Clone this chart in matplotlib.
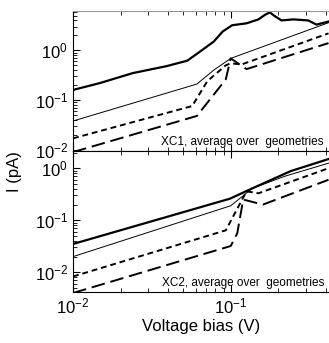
import numpy as np
from matplotlib import pyplot as plt
from matplotlib.ticker import LogLocator, NullFormatter

plt.rcParams['font.family'] = ['Liberation Sans', 'DejaVu Sans']

# XC1 (top panel)
v1_thick = [0.01, 0.0148, 0.024, 0.039, 0.053, 0.064, 0.078, 0.089, 0.102, 0.126,
            0.15, 0.165, 0.177, 0.19, 0.21, 0.25, 0.31, 0.35, 0.417]
i1_thick = [0.16, 0.22, 0.35, 0.48, 0.62, 0.95, 1.5, 2.4, 3.2, 3.5,
            4.2, 5.2, 5.8, 4.9, 4.0, 4.2, 4.0, 3.3, 3.8]
v1_thin = [0.01, 0.061, 0.078, 0.10, 0.417]
i1_thin = [0.038, 0.21, 0.40, 0.69, 3.6]
v1_sdash = [0.01, 0.057, 0.071, 0.093, 0.10, 0.117, 0.417]
i1_sdash = [0.017, 0.076, 0.24, 0.50, 0.55, 0.52, 2.2]
v1_ldash = [0.01, 0.061, 0.093, 0.10, 0.126, 0.417]
i1_ldash = [0.009, 0.048, 0.26, 0.69, 0.42, 1.4]

# XC2 (bottom panel)
v2_thick = [0.01, 0.099, 0.137, 0.24, 0.417]
i2_thick = [0.035, 0.26, 0.41, 0.88, 1.5]
v2_thin = [0.01, 0.10, 0.137, 0.22, 0.417]
i2_thin = [0.02, 0.19, 0.41, 0.70, 1.25]
v2_sdash = [0.01, 0.093, 0.126, 0.15, 0.417]
i2_sdash = [0.0083, 0.064, 0.36, 0.33, 1.0]
v2_ldash = [0.01, 0.10, 0.11, 0.12, 0.16, 0.417]
i2_ldash = [0.004, 0.032, 0.056, 0.25, 0.20, 0.60]

fig = plt.figure(figsize=(3.29, 3.43), dpi=100)
ax1 = fig.add_axes([0.222, 0.56, 0.778, 0.408])
ax2 = fig.add_axes([0.222, 0.149, 0.778, 0.411], sharex=ax1)

def draw(ax, thick, thin, sdash, ldash):
    ax.plot(*thick, color='black', lw=1.6)
    ax.plot(*thin, color='black', lw=0.7)
    ax.plot(*sdash, color='black', lw=1.4, dashes=(3, 2))
    ax.plot(*ldash, color='black', lw=1.4, dashes=(7, 3))
    ax.set_xscale('log')
    ax.set_yscale('log')
    ax.tick_params(which='both', direction='in', top=True, labelsize=12)
    ax.tick_params(which='major', length=5)
    ax.tick_params(which='minor', length=3)
    ax.yaxis.set_minor_locator(LogLocator(base=10, subs=np.arange(2, 10)))
    ax.yaxis.set_minor_formatter(NullFormatter())
    ax.spines['right'].set_visible(False)

draw(ax1, (v1_thick, i1_thick), (v1_thin, i1_thin), (v1_sdash, i1_sdash), (v1_ldash, i1_ldash))
draw(ax2, (v2_thick, i2_thick), (v2_thin, i2_thin), (v2_sdash, i2_sdash), (v2_ldash, i2_ldash))

ax1.set_xlim(0.01, 0.42)
ax1.set_ylim(0.0095, 6.2)
ax2.set_ylim(0.0042, 2.15)
ax1.spines['top'].set_color('0.6')
ax1.set_yticks([0.01, 0.1, 1])
ax2.set_yticks([0.01, 0.1, 1])
ax1.tick_params(labelbottom=False)

ax1.text(0.98, 0.02, 'XC1, average over  geometries', transform=ax1.transAxes,
         ha='right', va='bottom', fontsize=8.5)
ax2.text(0.98, 0.02, 'XC2, average over  geometries', transform=ax2.transAxes,
         ha='right', va='bottom', fontsize=8.5)

fig.text(0.045, 0.5, 'I (pA)', rotation=90, ha='center', va='center', fontsize=12)
ax2.set_xlabel('Voltage bias (V)', fontsize=12, labelpad=2)

fig.savefig('out.png', dpi=100)
